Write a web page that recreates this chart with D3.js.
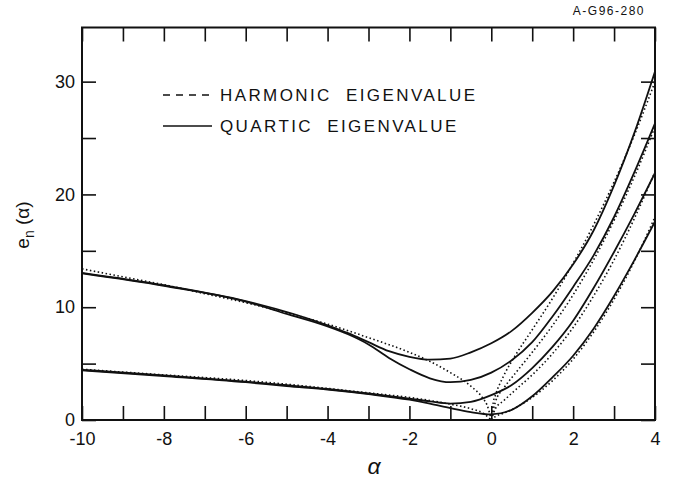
<!DOCTYPE html>
<html>
<head>
<meta charset="utf-8">
<script src="https://cdn.jsdelivr.net/npm/d3@7"></script>
<style>
  body { margin: 0; background: #fff; }
  text { font-family: "Liberation Sans", "DejaVu Sans", sans-serif; fill: #111; }
</style>
</head>
<body>
<div id="my_dataviz"></div>
<script>
// quartic eigenvalues (solid) as [alpha, e]
var quartic0 = [[-10,4.4],[-8,3.9],[-6,3.35],[-5,3.0],[-4,2.7],[-3,2.3],[-2,1.8],[-1.5,1.45],[-1,1.05],[-0.5,0.7],[0,0.5],[0.5,0.9],[1,2.1],[1.5,3.8],[2,5.7],[2.5,8.1],[3,11.0],[3.5,14.2],[4,17.6]];
var quartic1 = [[-10,4.45],[-8,3.95],[-6,3.4],[-4,2.75],[-3,2.35],[-2,1.9],[-1.5,1.65],[-1,1.45],[-0.5,1.6],[0,2.2],[0.5,3.1],[1,4.6],[1.5,6.5],[2,8.8],[2.5,11.7],[3,14.9],[3.5,18.3],[4,21.9]];
var quartic2 = [[-10,13.0],[-8,11.9],[-6,10.5],[-5,9.4],[-4,8.3],[-3.5,7.6],[-3,6.7],[-2.5,5.5],[-2,4.5],[-1.5,3.7],[-1,3.35],[-0.5,3.55],[0,4.2],[0.5,5.3],[1,6.9],[1.5,9.2],[2,11.8],[2.5,14.6],[3,18.0],[3.5,22.0],[4,26.3]];
var quartic3 = [[-10,13.05],[-8,11.95],[-6,10.55],[-4,8.4],[-3.5,7.7],[-3,6.9],[-2.5,6.1],[-2,5.6],[-1.5,5.35],[-1,5.45],[-0.5,6.0],[0,6.8],[0.5,7.9],[1,9.5],[1.5,11.4],[2,13.8],[2.5,16.8],[3,20.8],[3.5,25.5],[4,30.9]];

// harmonic eigenvalues (dotted)
var harmLow = [[-10,4.5],[-8,4.0],[-6,3.5],[-4,2.8],[-3,2.4],[-2,2.0],[-1,1.4],[-0.5,1.0],[-0.2,0.6],[0,0]];
var harmHigh = [[-10,13.4],[-9,12.7],[-8,12.0],[-7,11.2],[-6,10.4],[-5,9.5],[-4,8.5],[-3,7.3],[-2,6.0],[-1.5,5.2],[-1,4.2],[-0.5,3.0],[-0.2,1.9],[-0.1,1.3],[0,0]];
var harm0 = [[0,0],[0.1,0.3],[0.3,0.6],[0.6,1.1],[1,2.0],[1.5,3.5],[2,5.4],[2.5,7.8],[3,10.7],[3.5,14.1],[4,18.0]];
var harm1 = [[0,0],[0.1,1.0],[0.3,1.7],[0.6,2.7],[1,4.0],[1.5,5.9],[2,8.2],[2.5,11.0],[3,14.2],[3.5,17.9],[4,22.0]];
var harm2 = [[0,0],[0.1,1.6],[0.3,2.8],[0.6,4.2],[1,6.0],[1.5,8.4],[2,11.1],[2.5,14.2],[3,17.7],[3.5,21.6],[4,26.0]];
var harm3 = [[0,0],[0.05,1.6],[0.1,2.2],[0.3,3.9],[0.6,5.8],[1,8.0],[1.5,10.8],[2,13.9],[2.5,17.3],[3,21.1],[3.5,25.3],[4,30.0]];

var xTicks = [-10,-9,-8,-7,-6,-5,-4,-3,-2,-1,0,1,2,3,4];
var yTicks = [0,5,10,15,20,25,30];
var legendLabels = ["HARMONIC  EIGENVALUE", "QUARTIC  EIGENVALUE"];

var W = 686, H = 481;
var x = d3.scaleLinear().domain([-10, 4]).range([82, 655]);
var y = d3.scaleLinear().domain([0, 34.8]).range([420, 27.5]);

var svg = d3.select("#my_dataviz")
  .append("svg")
    .attr("width", W)
    .attr("height", H);

// axes, ticks pointing inward
var axB = svg.append("g")
  .attr("transform", "translate(0," + y(0) + ")")
  .call(d3.axisBottom(x).tickValues(xTicks).tickSize(-14).tickPadding(12)
    .tickFormat(function(d) { return d % 2 === 0 ? String(d) : ""; }));
var axT = svg.append("g")
  .attr("transform", "translate(0," + y(34.8) + ")")
  .call(d3.axisTop(x).tickValues(xTicks).tickSize(-14).tickFormat(""));
var axL = svg.append("g")
  .attr("transform", "translate(" + x(-10) + ",0)")
  .call(d3.axisLeft(y).tickValues(yTicks).tickSize(-14).tickPadding(7)
    .tickFormat(function(d) { return d % 10 === 0 ? String(d) : ""; }));
var axR = svg.append("g")
  .attr("transform", "translate(" + x(4) + ",0)")
  .call(d3.axisRight(y).tickValues(yTicks).tickSize(-14).tickFormat(""));

[axB, axT, axL, axR].forEach(function(g) {
  g.select(".domain").remove();
  g.selectAll(".tick line").attr("stroke", "#111").attr("stroke-width", 1.6);
  g.selectAll(".tick text").attr("font-size", 18).attr("font-family", "Liberation Sans").attr("fill", "#111");
});

svg.append("rect")
  .attr("x", x(-10)).attr("y", y(34.8))
  .attr("width", x(4) - x(-10)).attr("height", y(0) - y(34.8))
  .attr("fill", "none").attr("stroke", "#111").attr("stroke-width", 2);

// curves
var line = d3.line()
  .x(function(d) { return x(d[0]); })
  .y(function(d) { return y(d[1]); })
  .curve(d3.curveMonotoneX);

svg.append("clipPath").attr("id", "clip")
  .append("rect")
  .attr("x", x(-10)).attr("y", y(34.8))
  .attr("width", x(4) - x(-10)).attr("height", y(0) - y(34.8));

var plot = svg.append("g").attr("clip-path", "url(#clip)");

[quartic0, quartic1, quartic2, quartic3].forEach(function(s) {
  plot.append("path").datum(s)
    .attr("d", line)
    .attr("fill", "none").attr("stroke", "#111").attr("stroke-width", 1.8);
});

[harmLow, harmHigh, harm0, harm1, harm2, harm3].forEach(function(s) {
  plot.append("path").datum(s)
    .attr("d", line)
    .attr("fill", "none").attr("stroke", "#111").attr("stroke-width", 1.6)
    .attr("stroke-dasharray", "1.5,2.5");
});

// legend
var lg = svg.append("g");
lg.append("line")
  .attr("x1", 163).attr("x2", 212).attr("y1", 95).attr("y2", 95)
  .attr("stroke", "#111").attr("stroke-width", 1.6).attr("stroke-dasharray", "7,6");
lg.append("line")
  .attr("x1", 163).attr("x2", 212).attr("y1", 126).attr("y2", 126)
  .attr("stroke", "#111").attr("stroke-width", 1.4);
lg.selectAll("text.lab")
  .data(legendLabels)
  .enter().append("text")
    .attr("class", "lab")
    .attr("x", 220)
    .attr("y", function(d, i) { return 101 + i * 31; })
    .attr("font-size", 17)
    .attr("letter-spacing", 2.4)
    .style("white-space", "pre")
    .text(function(d) { return d; });

// axis titles
svg.append("text")
  .attr("x", 374).attr("y", 474)
  .attr("text-anchor", "middle")
  .attr("font-size", 23)
  .attr("font-family", "DejaVu Serif")
  .attr("font-style", "italic")
  .text("α");

var yt = svg.append("text")
  .attr("transform", "translate(29,225) rotate(-90)")
  .attr("text-anchor", "middle")
  .attr("font-size", 19);
yt.append("tspan").text("e");
yt.append("tspan").attr("font-size", 14).attr("dy", 5).text("n");
yt.append("tspan").attr("dy", -5).text(" (α)");

svg.append("text")
  .attr("x", 645).attr("y", 15)
  .attr("text-anchor", "end")
  .attr("font-size", 12)
  .attr("letter-spacing", 1.5)
  .text("A-G96-280");
</script>
</body>
</html>
